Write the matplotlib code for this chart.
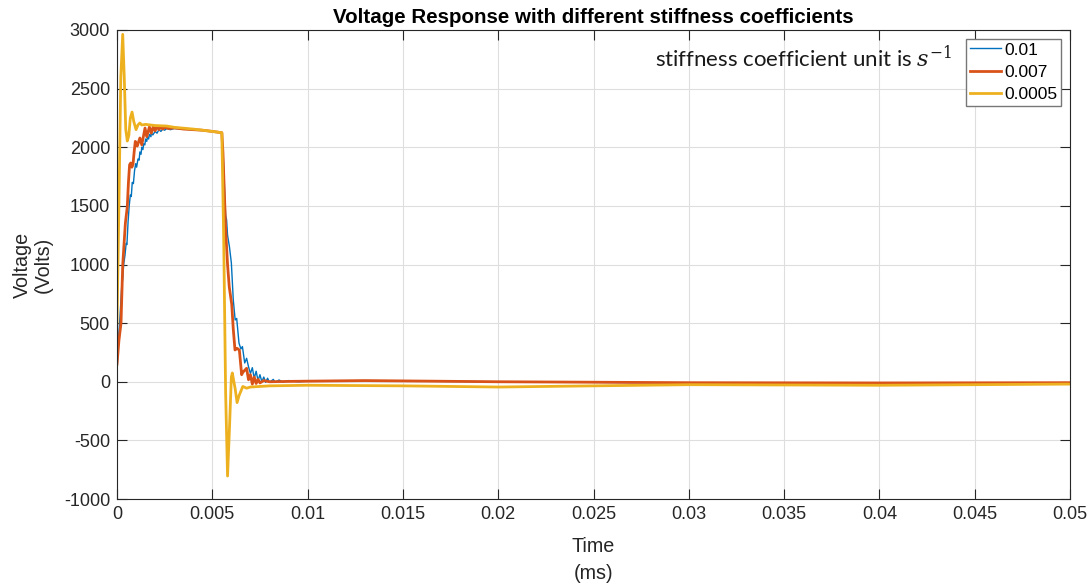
import matplotlib
matplotlib.use("Agg")
import matplotlib.pyplot as plt
from matplotlib.ticker import FixedLocator

# ---- data (time in same units as axis, voltage in Volts) ----
t_blue = [0, 0.0001, 0.00016, 0.00025, 0.0003, 0.00035, 0.00042, 0.00048, 0.00052, 0.00058,
          0.00064, 0.0007, 0.00075, 0.0008, 0.00086, 0.00092, 0.00098, 0.00103, 0.0011, 0.00116,
          0.0012, 0.00126, 0.0013, 0.00136, 0.0014, 0.00146, 0.0015, 0.00156, 0.0016, 0.00166,
          0.0017, 0.00178, 0.0018, 0.00188, 0.002, 0.0021, 0.0022, 0.0023, 0.0024, 0.0025,
          0.0026, 0.0028, 0.003, 0.0035, 0.004, 0.0045, 0.005, 0.0055,
          0.00558, 0.00565, 0.0057, 0.00575, 0.0058, 0.0059, 0.006, 0.0061, 0.0062, 0.00628,
          0.0064, 0.0065, 0.00658, 0.0067, 0.0068, 0.0069, 0.007, 0.0071, 0.0072, 0.0073,
          0.0074, 0.0075, 0.0076, 0.0077, 0.0078, 0.0079, 0.008, 0.0082, 0.0083, 0.0085,
          0.0087, 0.009, 0.0095, 0.01, 0.013, 0.02, 0.03, 0.04, 0.05]
v_blue = [100, 420, 560, 820, 880, 1000, 1080, 1180, 1170, 1360,
          1500, 1593, 1580, 1700, 1690, 1800, 1860, 1830, 1900, 1890,
          1960, 1940, 2000, 1980, 2030, 2020, 2070, 2050, 2090, 2070,
          2110, 2090, 2120, 2105, 2135, 2120, 2150, 2135, 2155, 2145,
          2160, 2150, 2160, 2155, 2150, 2145, 2135, 2124,
          1900, 1600, 1420, 1380, 1250, 1150, 1013, 700, 527, 540,
          330, 280, 300, 160, 200, 128, 70, 120, 30, 90,
          10, 60, 0, 40, -5, 30, -5, 20, -5, 15,
          -3, 10, 0, 5, 8, 0, -10, -10, -8]

t_red = [0, 0.0001, 0.00021, 0.0003, 0.00036, 0.00044, 0.00054, 0.0006, 0.00066, 0.00072,
         0.00078, 0.00084, 0.0009, 0.00096, 0.001, 0.00106, 0.0012, 0.0013, 0.00147, 0.00156,
         0.0017, 0.0018, 0.0019, 0.002, 0.0021, 0.0022, 0.0023, 0.0024, 0.0025, 0.0027,
         0.003, 0.0035, 0.004, 0.0045, 0.005, 0.0055,
         0.00556, 0.0057, 0.0058, 0.00589, 0.00602, 0.0061, 0.00619, 0.0063, 0.00642, 0.00654,
         0.0066, 0.0068, 0.0069, 0.007, 0.0071, 0.0072, 0.0073, 0.0074, 0.0075, 0.0077,
         0.008, 0.009, 0.01, 0.013, 0.02, 0.03, 0.04, 0.05]
v_red = [150, 350, 500, 996, 1150, 1354, 1493, 1700, 1850, 1866,
         1830, 1855, 1960, 2050, 2036, 2010, 2079, 2020, 2164, 2090,
         2173, 2120, 2175, 2140, 2180, 2150, 2175, 2155, 2170, 2160,
         2165, 2155, 2150, 2145, 2135, 2124,
         1950, 1300, 1000, 808, 660, 450, 271, 285, 270, 60,
         80, 115, 17, 60, -20, 40, -15, 20, -10, 10,
         0, 3, 5, 10, 0, -8, -10, -8]

t_yel = [0, 0.0001, 0.0002, 0.0003, 0.00038, 0.00046, 0.00054, 0.00062, 0.0007, 0.00079,
         0.00088, 0.001, 0.0011, 0.0012, 0.0013, 0.0015, 0.002, 0.0026, 0.003, 0.004,
         0.005, 0.0055,
         0.0056, 0.0057, 0.0058, 0.0059, 0.006, 0.00605, 0.0062, 0.0063, 0.0064, 0.0066,
         0.0068, 0.007, 0.008, 0.01, 0.015, 0.02, 0.025, 0.03, 0.04, 0.05]
v_yel = [500, 1500, 2600, 2963, 2600, 2150, 2053, 2100, 2250, 2300,
         2220, 2150, 2190, 2207, 2190, 2195, 2185, 2181, 2170, 2155,
         2135, 2124,
         1200, -100, -804, -400, 40, 75, -60, -178, -120, -40,
         -55, -45, -35, -30, -35, -45, -35, -25, -30, -20]

labels = ["0.01", "0.007", "0.0005"]
xticks = [0, 0.005, 0.01, 0.015, 0.02, 0.025, 0.03, 0.035, 0.04, 0.045, 0.05]
xtick_labels = ["0", "0.005", "0.01", "0.015", "0.02", "0.025", "0.03", "0.035", "0.04", "0.045", "0.05"]
yticks = [-1000, -500, 0, 500, 1000, 1500, 2000, 2500, 3000]

plt.rcParams['font.family'] = ['Liberation Sans', 'DejaVu Sans']
plt.rcParams['mathtext.fontset'] = 'dejavuserif'
plt.rcParams['axes.unicode_minus'] = False

fig = plt.figure(figsize=(10.91, 5.86), dpi=100)
ax = fig.add_axes([117/1091, 1 - 499/586, (1070 - 117)/1091, (499 - 30)/586])

ax.plot(t_blue, v_blue, color='#0072BD', lw=1.0, label=labels[0])
ax.plot(t_red, v_red, color='#D95319', lw=2.0, label=labels[1])
ax.plot(t_yel, v_yel, color='#EDB120', lw=2.0, label=labels[2])

ax.set_xlim(0, 0.05)
ax.set_ylim(-1000, 3000)
ax.xaxis.set_major_locator(FixedLocator(xticks))
ax.set_xticklabels(xtick_labels)
ax.set_yticks(yticks)
ax.tick_params(direction='in', top=True, right=True, labelsize=13, length=7,
               width=0.8, colors='#262626', pad=5)
ax.grid(True, color='#dedede', lw=0.8)
ax.set_axisbelow(True)
for s in ax.spines.values():
    s.set_color('#262626')
    s.set_linewidth(0.8)

ax.set_title("Voltage Response with different stiffness coefficients",
             fontsize=14.8, fontweight='bold', pad=5)
ax.set_xlabel("Time\n(ms)", fontsize=14.2, color='#262626', labelpad=10, linespacing=1.55)
ax.set_ylabel("Voltage\n(Volts)", fontsize=14.2, color='#262626', labelpad=8, linespacing=1.15)

ax.text(0.02825, 2760, r"stiffness coefficient unit is $s^{-1}$", fontsize=16,
        family=['Lato', 'DejaVu Sans'], color='#1a1a1a', va='center')

leg = ax.legend(loc='upper right', bbox_to_anchor=(0.9905, 0.981), fontsize=12.5,
                fancybox=False, framealpha=1, edgecolor='#777777',
                handlelength=1.8, handletextpad=0.2, borderpad=0.2,
                labelspacing=0.42, borderaxespad=0)
leg.get_frame().set_linewidth(1.0)

fig.savefig("out.png", dpi=100)
